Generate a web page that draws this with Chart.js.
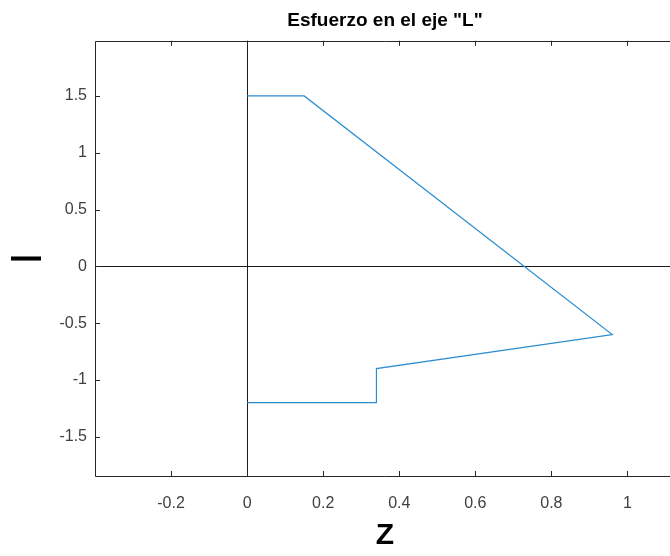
<!DOCTYPE html>
<html>
<head>
<meta charset="utf-8">
<title>Esfuerzo en el eje L</title>
<script src="https://cdn.jsdelivr.net/npm/chart.js@4.4.1/dist/chart.umd.min.js"></script>
<style>
  html, body { margin: 0; padding: 0; background: #fff; overflow: hidden; }
  #wrap { width: 700px; height: 556px; }
</style>
</head>
<body>
<div id="wrap"><canvas id="esfuerzo" width="700" height="556"></canvas></div>
<script>
// values
const zValues = [0, 0.15, 0.96, 0.34, 0.34, 0];
const lValues = [1.5, 1.5, -0.6, -0.9, -1.2, -1.2];

const xTicks = [-0.2, 0, 0.2, 0.4, 0.6, 0.8, 1];
const yTicks = [-1.5, -1, -0.5, 0, 0.5, 1, 1.5];

const xRange = [-0.4, 1.125];
const yRange = [-1.845, 1.985];

const fontFamily = '"Liberation Sans", Arial, Helvetica, sans-serif';

// MATLAB style box with inward ticks
const boxPlugin = {
    id: 'boxPlugin',
    afterDraw(chart) {
        const {ctx, chartArea: a, scales} = chart;
        const len = 5;
        ctx.save();
        ctx.strokeStyle = '#262626';
        ctx.lineWidth = 1;
        ctx.beginPath();
        ctx.rect(Math.round(a.left) + 0.5, Math.round(a.top) + 0.5,
                 Math.round(a.right - a.left), Math.round(a.bottom - a.top));
        scales.x.ticks.forEach(t => {
            const px = Math.round(scales.x.getPixelForValue(t.value)) + 0.5;
            ctx.moveTo(px, a.top); ctx.lineTo(px, a.top + len);
            ctx.moveTo(px, a.bottom); ctx.lineTo(px, a.bottom - len);
        });
        scales.y.ticks.forEach(t => {
            const py = Math.round(scales.y.getPixelForValue(t.value)) + 0.5;
            ctx.moveTo(a.left, py); ctx.lineTo(a.left + len, py);
            ctx.moveTo(a.right, py); ctx.lineTo(a.right - len, py);
        });
        ctx.stroke();
        ctx.restore();
    }
};

const zeroLine = c => (c.tick && c.tick.value === 0) ? '#1a1a1a' : 'rgba(0,0,0,0)';

const ctx = document.getElementById('esfuerzo').getContext('2d');
new Chart(ctx, {
    type: 'scatter',
    data: {
        datasets: [{
            label: 'L',
            data: zValues.map((z, i) => ({x: z, y: lValues[i]})),
            showLine: true,
            borderColor: '#2b8cd0',
            borderWidth: 1.2,
            pointRadius: 0,
            tension: 0,
            fill: false
        }]
    },
    options: {
        responsive: false,
        animation: false,
        devicePixelRatio: 1,
        layout: { padding: { top: 0, right: 25, bottom: 0, left: 0 } },
        plugins: {
            legend: { display: false },
            tooltip: { enabled: false },
            title: {
                display: true,
                text: 'Esfuerzo en el eje "L"',
                fullSize: false,
                color: '#000',
                font: { family: fontFamily, size: 19, weight: 'bold' },
                padding: { top: 9, bottom: 9 }
            }
        },
        scales: {
            x: {
                type: 'linear',
                min: xRange[0],
                max: xRange[1],
                ticks: {
                    color: '#404040',
                    padding: 18,
                    maxRotation: 0,
                    autoSkip: false,
                    font: { family: fontFamily, size: 16 },
                    callback: v => String(Math.round(v * 10) / 10)
                },
                afterBuildTicks: scale => {
                    scale.ticks = xTicks.map(v => ({value: v}));
                },
                afterFit: scale => { scale.height = 80; },
                grid: { drawTicks: false, color: zeroLine, lineWidth: 1 },
                border: { display: false },
                title: {
                    display: true,
                    text: 'Z',
                    color: '#000',
                    font: { family: fontFamily, size: 30, weight: 'bold' },
                    padding: { top: 2, bottom: 2 }
                }
            },
            y: {
                type: 'linear',
                min: yRange[0],
                max: yRange[1],
                ticks: {
                    color: '#404040',
                    padding: 8,
                    autoSkip: false,
                    font: { family: fontFamily, size: 16 },
                    callback: v => String(Math.round(v * 10) / 10)
                },
                afterBuildTicks: scale => {
                    scale.ticks = yTicks.map(v => ({value: v}));
                },
                afterFit: scale => { scale.width = 95; },
                grid: { drawTicks: false, color: zeroLine, lineWidth: 1 },
                border: { display: false },
                title: {
                    display: true,
                    text: '|',
                    color: '#000',
                    font: { family: fontFamily, size: 32, weight: 'bold' },
                    padding: { top: 6, bottom: 6 }
                }
            }
        }
    },
    plugins: [boxPlugin]
});
</script>
</body>
</html>
